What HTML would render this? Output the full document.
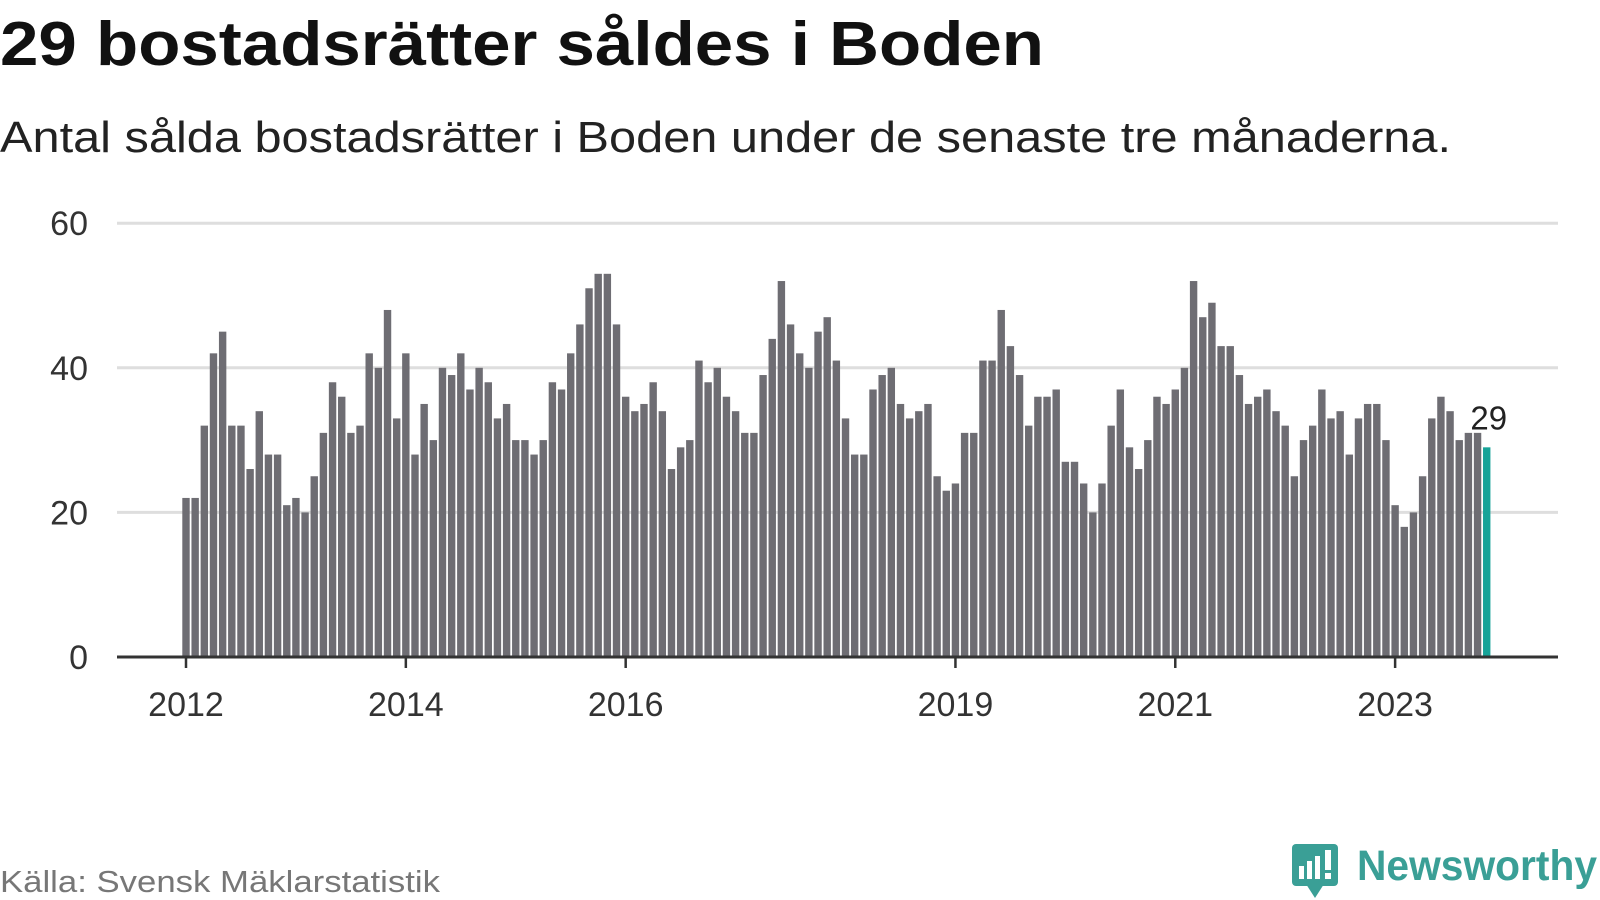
<!DOCTYPE html>
<html><head><meta charset="utf-8"><style>
html,body{margin:0;padding:0;background:#fff;}
svg{display:block;font-family:"Liberation Sans",sans-serif;}
</style></head><body>
<svg id="chart" width="1600" height="900" viewBox="0 0 1600 900">
<text x="0" y="65" font-size="62" font-weight="bold" fill="#111" textLength="1044" lengthAdjust="spacingAndGlyphs">29 bostadsrätter såldes i Boden</text>
<text x="0" y="152" font-size="44" fill="#222" textLength="1451" lengthAdjust="spacingAndGlyphs">Antal sålda bostadsrätter i Boden under de senaste tre månaderna.</text>
<g id="grid"></g>
<g id="bars"></g>
<g id="axis"></g>
<text x="0" y="892" font-size="31" fill="#777" textLength="440" lengthAdjust="spacingAndGlyphs">Källa: Svensk Mäklarstatistik</text>
<g>
<rect x="1292" y="844" width="46" height="42" rx="4" fill="#3a9f96"/>
<polygon points="1306,884 1324,884 1315,898" fill="#3a9f96"/>
<rect x="1299" y="866" width="5" height="13" fill="#fff"/>
<rect x="1307" y="861" width="5" height="18" fill="#fff"/>
<rect x="1315" y="856" width="5" height="23" fill="#fff"/>
<rect x="1325" y="850" width="6" height="20" fill="#fff"/>
<rect x="1325" y="873" width="6" height="6" fill="#fff"/>
<text x="1357" y="880" font-size="43" font-weight="bold" fill="#3a9f96" textLength="240" lengthAdjust="spacingAndGlyphs">Newsworthy</text>
</g>
</svg>
<script>
const values = [22,22,32,42,45,32,32,26,34,28,28,21,
22,20,25,31,38,36,31,32,42,40,48,33,
42,28,35,30,40,39,42,37,40,38,33,35,
30,30,28,30,38,37,42,46,51,53,53,46,
36,34,35,38,34,26,29,30,41,38,40,36,
34,31,31,39,44,52,46,42,40,45,47,41,
33,28,28,37,39,40,35,33,34,35,25,23,
24,31,31,41,41,48,43,39,32,36,36,37,
27,27,24,20,24,32,37,29,26,30,36,35,
37,40,52,47,49,43,43,39,35,36,37,34,
32,25,30,32,37,33,34,28,33,35,35,30,
21,18,20,25,33,36,34,30,31,31,29];
const startYear = 2012;
const yTicks = [0,20,40,60];
const xTickYears = [2012,2014,2016,2019,2021,2023];
const NS='http://www.w3.org/2000/svg';
const y0=657, pxPerUnit=7.23, x0=186, pitch=9.16, bw=7.4;
const yScale=v=>y0-v*pxPerUnit;
const xScale=i=>x0+i*pitch;
const grid=document.getElementById('grid'), bars=document.getElementById('bars'), axis=document.getElementById('axis');
function mk(tag,attrs,parent){const e=document.createElementNS(NS,tag);for(const k in attrs)e.setAttribute(k,attrs[k]);parent.appendChild(e);return e;}
yTicks.forEach(t=>{
  if(t>0){const l=mk('line',{x1:117,x2:1558,y1:yScale(t),y2:yScale(t),stroke:'#dedede','stroke-width':3},grid);
  
  }
  const tx=mk('text',{x:88,y:yScale(t)+12,'font-size':34,fill:'#333','text-anchor':'end'},grid);
  tx.textContent=t;
  
  
});
values.forEach((v,i)=>{
  const last=i===values.length-1;
  const r=mk('rect',{x:xScale(i)-bw/2,y:yScale(v),width:bw,height:v*pxPerUnit,fill:last?'#17a398':'#6e6d73'},bars);
  
  
});
const li=values.length-1;
const lab=mk('text',{x:xScale(li)+2,y:yScale(values[li])-18,'font-size':33,fill:'#222','text-anchor':'middle'},bars);
lab.textContent=values[li];


const ax=mk('line',{x1:117,x2:1558,y1:y0,y2:y0,stroke:'#333','stroke-width':3},axis);


xTickYears.forEach(yr=>{
  const x=xScale((yr-startYear)*12);
  const t=mk('line',{x1:x,x2:x,y1:y0,y2:y0+11,stroke:'#333','stroke-width':2.5},axis);
  
  
  const tx=mk('text',{x:x,y:716,'font-size':34,fill:'#333','text-anchor':'middle'},axis);
  tx.textContent=yr;
  
  
});
</script>
</body></html>
